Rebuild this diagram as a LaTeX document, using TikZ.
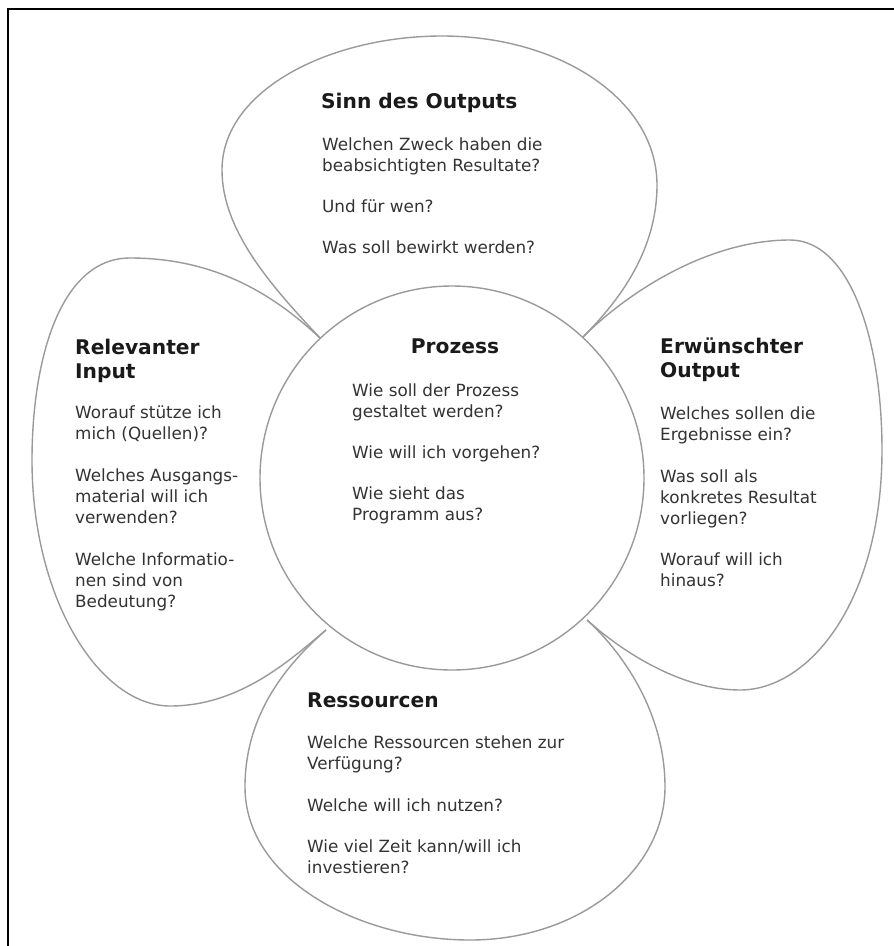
\documentclass[tikz,border=0pt]{standalone}
\usepackage{fontspec}
\setmainfont{DejaVu Sans}
\definecolor{petal}{HTML}{9A9A9A}
\definecolor{bodytxt}{HTML}{333333}
\definecolor{headtxt}{HTML}{1A1A1A}
\begin{document}
\begin{tikzpicture}[x=1pt,y=-1pt,
  petalline/.style={draw=petal,line width=1.4pt,line join=round},
  body/.style={anchor=base west,align=left,inner sep=0pt,text=bodytxt,font=\fontsize{16.8}{21}\selectfont},
  head/.style={anchor=base west,align=left,inner sep=0pt,text=headtxt,font=\fontsize{20.2}{24}\selectfont\bfseries},
  frameline/.style={draw=black,line width=2.2pt}]
\useasboundingbox (0,0) rectangle (894,946);
\fill[white] (0,0) rectangle (894,946);
% frame (top and left edges)
\coordinate (ftl) at (8,9);
\coordinate (ftr) at (894,9);
\coordinate (fbl) at (8,946);
\draw[frameline] (ftr) -- (ftl) -- (fbl);
% junctions on the centre circle
\coordinate (jtl) at (322,340);
\coordinate (jtr) at (583,337);
\coordinate (jbl) at (326,630);
\coordinate (jbr) at (587,620);
% top petal
\draw[petalline] (jtl) .. controls (270,285) and (222,230) .. (222,170)
  .. controls (222,90) and (330,36) .. (442,36)
  .. controls (560,36) and (657,100) .. (657,185)
  .. controls (657,250) and (620,300) .. (jtr);
% left petal
\draw[petalline] (jtl) .. controls (270,290) and (210,258) .. (130,258)
  .. controls (60,258) and (32,360) .. (32,460)
  .. controls (32,600) and (100,706) .. (170,706)
  .. controls (240,706) and (290,660) .. (jbl);
% right petal
\draw[petalline] (jtr) .. controls (630,290) and (710,240) .. (790,240)
  .. controls (850,240) and (882,340) .. (882,450)
  .. controls (882,600) and (810,690) .. (740,690)
  .. controls (680,690) and (620,650) .. (jbr);
% bottom petal
\draw[petalline] (jbl) .. controls (280,670) and (245,720) .. (245,787)
  .. controls (245,880) and (360,940) .. (470,940)
  .. controls (580,940) and (665,870) .. (665,787)
  .. controls (665,710) and (620,650) .. (jbr);
% centre circle
\node[circle,draw=petal,line width=1.4pt,fill=white,minimum size=384pt,inner sep=0pt] (c) at (452,478) {};
% texts (anchored at the baseline of their last line)
\node[head] (h1) at (321,108) {Sinn des Outputs};
\node[body] (b1) at (322,253) {Welchen Zweck haben die\\beabsichtigten Resultate?\\[20pt]Und für wen?\\[20pt]Was soll bewirkt werden?};
\node[head,anchor=base] (h2) at (455,353) {Prozess};
\node[body] (b2) at (352,520) {Wie soll der Prozess\\gestaltet werden?\\[20pt]Wie will ich vorgehen?\\[20pt]Wie sieht das\\Programm aus?};
\node[head] (h3) at (75,378) {Relevanter\\Input};
\node[body] (b3) at (75,607) {Worauf stütze ich\\mich (Quellen)?\\[21pt]Welches Ausgangs-\\material will ich\\verwenden?\\[21pt]Welche Informatio-\\nen sind von\\Bedeutung?};
\node[head] (h4) at (660,377) {Erwünschter\\Output};
\node[body] (b4) at (660,586) {Welches sollen die\\Ergebnisse ein?\\[21pt]Was soll als\\konkretes Resultat\\vorliegen?\\[20pt]Worauf will ich\\hinaus?};
\node[head] (h5) at (307,707) {Ressourcen};
\node[body] (b5) at (307,873) {Welche Ressourcen stehen zur\\Verfügung?\\[21pt]Welche will ich nutzen?\\[20pt]Wie viel Zeit kann/will ich\\investieren?};
\end{tikzpicture}
\end{document}
